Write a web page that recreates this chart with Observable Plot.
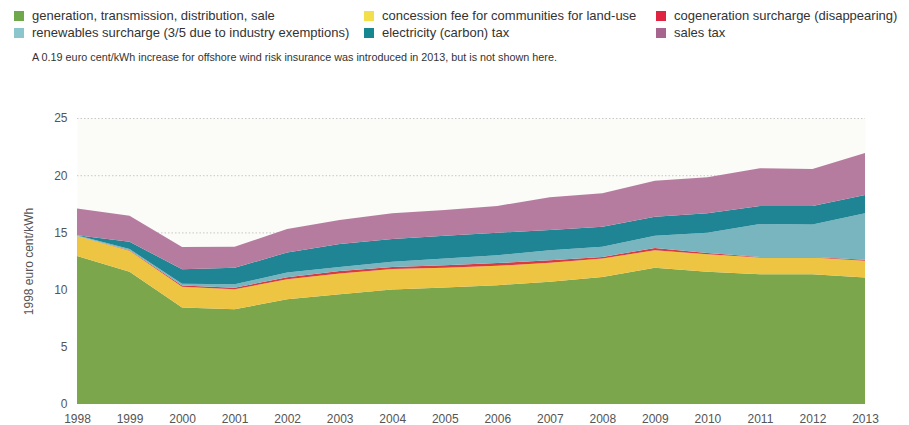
<!DOCTYPE html>
<html>
<head>
<meta charset="utf-8">
<script src="https://cdn.jsdelivr.net/npm/d3@7"></script>
<script src="https://cdn.jsdelivr.net/npm/@observablehq/plot@0.6"></script>
<style>
  body { margin: 0; background: #fff; font-family: "Liberation Sans", Arial, sans-serif; }
  #wrap { position: relative; width: 909px; height: 425px; overflow: hidden; }
  .lg { position: absolute; font-size: 13px; color: #333; white-space: nowrap; line-height: 16px; }
  .sw { position: absolute; width: 10px; height: 10px; }
  #note { position: absolute; left: 32px; top: 51px; font-size: 10.8px; color: #333; white-space: nowrap; }
  #chart { position: absolute; left: 0; top: 100px; }
</style>
</head>
<body>
<div id="wrap">
  <div id="legend"></div>
  <div id="note">A 0.19 euro cent/kWh increase for offshore wind risk insurance was introduced in 2013, but is not shown here.</div>
  <div id="chart"></div>
</div>
<script>
const years = [1998,1999,2000,2001,2002,2003,2004,2005,2006,2007,2008,2009,2010,2011,2012,2013];
const seriesNames = [
  "generation, transmission, distribution, sale",
  "concession fee for communities for land-use",
  "cogeneration surcharge (disappearing)",
  "renewables surcharge (3/5 due to industry exemptions)",
  "electricity (carbon) tax",
  "sales tax"
];
const generation   = [12.93,11.55,8.43,8.28,9.16,9.60,10.00,10.18,10.39,10.68,11.11,11.90,11.55,11.35,11.35,11.06];
const concession   = [1.75,1.85,1.81,1.75,1.75,1.81,1.79,1.72,1.69,1.66,1.61,1.55,1.55,1.46,1.46,1.46];
const cogeneration = [0.00,0.04,0.12,0.13,0.18,0.21,0.19,0.22,0.24,0.22,0.14,0.18,0.10,0.05,0.04,0.10];
const renewables   = [0.08,0.10,0.15,0.30,0.40,0.36,0.45,0.60,0.69,0.89,0.88,1.07,1.77,2.87,2.84,4.05];
const electricityTax = [0.00,0.64,1.27,1.44,1.76,2.00,1.99,1.99,1.96,1.75,1.76,1.66,1.70,1.58,1.61,1.60];
const salesTax     = [2.34,2.28,1.95,1.84,2.04,2.10,2.25,2.25,2.34,2.87,2.92,3.16,3.15,3.30,3.24,3.66];
const yTicks = [0,5,10,15,20,25];

const areaColors = ["#7ba64b","#eec443","#d83a40","#79b5bf","#1f8494","#b57c9f"];
const legendColors = ["#6fa84a","#8cc6cd","#f3df4b","#168690","#df2442","#a6648f"];

const seriesValues = [generation, concession, cogeneration, renewables, electricityTax, salesTax];
const data = [];
seriesNames.forEach((s, i) => years.forEach((y, j) => data.push({year: y, series: s, value: seriesValues[i][j]})));

const legendItems = [
  {name: seriesNames[0], color: legendColors[0], x: 14, y: 11},
  {name: seriesNames[3], color: legendColors[1], x: 14, y: 28},
  {name: seriesNames[1], color: legendColors[2], x: 364, y: 11},
  {name: seriesNames[4], color: legendColors[3], x: 364, y: 28},
  {name: seriesNames[2], color: legendColors[4], x: 656, y: 11},
  {name: seriesNames[5], color: legendColors[5], x: 656, y: 28}
];
const lg = document.getElementById("legend");
legendItems.forEach(it => {
  const sw = document.createElement("div");
  sw.className = "sw"; sw.style.left = it.x + "px"; sw.style.top = it.y + "px"; sw.style.background = it.color;
  lg.appendChild(sw);
  const t = document.createElement("div");
  t.className = "lg"; t.style.left = (it.x + 18) + "px"; t.style.top = (it.y - 3) + "px"; t.textContent = it.name;
  lg.appendChild(t);
});

const chart = Plot.plot({
  width: 909,
  height: 325,
  marginLeft: 77,
  marginRight: 44,
  marginTop: 18,
  marginBottom: 21,
  style: {fontFamily: "Liberation Sans, Arial, sans-serif", fontSize: "12px", color: "#555", background: "transparent"},
  x: {domain: [1998, 2013], label: null},
  y: {domain: [0, 25]},
  color: {domain: seriesNames, range: areaColors},
  marks: [
    Plot.frame({fill: "#fbfbf8", stroke: null}),
    Plot.gridY(yTicks.filter(d => d > 0), {stroke: "#c8c8c8", strokeOpacity: 1, strokeDasharray: "1.5,2"}),
    Plot.areaY(data, {x: "year", y: "value", fill: "series", z: "series", order: seriesNames}),
    Plot.axisX({ticks: years, tickFormat: d => String(d), tickSize: 0, tickPadding: 10, fontSize: 12, label: null}),
    Plot.axisY({ticks: yTicks, tickSize: 0, tickPadding: 10, fontSize: 12, label: "1998 euro cent/kWh", labelAnchor: "center", labelOffset: 53, labelArrow: "none"})
  ]
});
document.getElementById("chart").appendChild(chart);
</script>
</body>
</html>
